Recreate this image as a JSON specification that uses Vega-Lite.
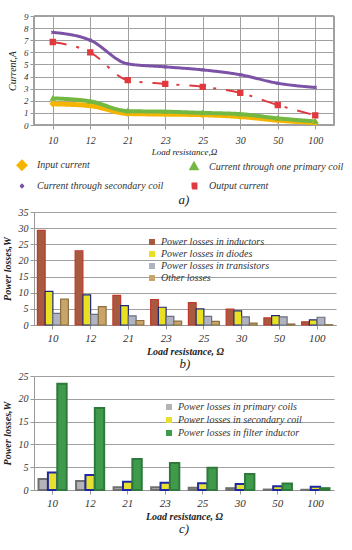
{
  "$schema": "https://vega.github.io/schema/vega-lite/v6.json",
  "padding": {"top": 12, "left": 2, "right": 12, "bottom": 0},
  "spacing": 0,
  "resolve": {
    "scale": {"color": "independent", "stroke": "independent", "shape": "independent", "size": "independent", "strokeWidth": "independent", "strokeDash": "independent", "x": "independent", "y": "independent", "xOffset": "independent"},
    "legend": {"color": "independent", "stroke": "independent", "shape": "independent"}
  },
  "config": {
    "font": "Liberation Serif",
    "view": {"stroke": null},
    "axis": {"labelFont": "Liberation Serif", "labelFontStyle": "italic", "labelFontSize": 10, "labelColor": "#333", "titleFont": "Liberation Serif", "titleFontStyle": "italic", "titleFontSize": 10, "titleColor": "#222", "titleFontWeight": "normal", "gridColor": "#a0a0a0", "domainColor": "#999", "tickColor": "#999", "tickSize": 4},
    "legend": {"labelFont": "Liberation Serif", "labelFontStyle": "italic", "labelFontSize": 10, "labelColor": "#333"},
    "title": {"font": "Liberation Serif", "fontStyle": "italic", "fontWeight": "normal", "fontSize": 13, "color": "#222"}
  },
  "datasets": {
    "currents": [
      {"R": "10", "series": "Input current", "value": 1.75},
      {"R": "12", "series": "Input current", "value": 1.6},
      {"R": "21", "series": "Input current", "value": 0.95},
      {"R": "23", "series": "Input current", "value": 0.9},
      {"R": "25", "series": "Input current", "value": 0.85},
      {"R": "30", "series": "Input current", "value": 0.7},
      {"R": "50", "series": "Input current", "value": 0.4},
      {"R": "100", "series": "Input current", "value": 0.2},
      {"R": "10", "series": "Current through one primary coil", "value": 2.2},
      {"R": "12", "series": "Current through one primary coil", "value": 1.95},
      {"R": "21", "series": "Current through one primary coil", "value": 1.15},
      {"R": "23", "series": "Current through one primary coil", "value": 1.1},
      {"R": "25", "series": "Current through one primary coil", "value": 1.0},
      {"R": "30", "series": "Current through one primary coil", "value": 0.9},
      {"R": "50", "series": "Current through one primary coil", "value": 0.55},
      {"R": "100", "series": "Current through one primary coil", "value": 0.3},
      {"R": "10", "series": "Current through secondary coil", "value": 7.65},
      {"R": "12", "series": "Current through secondary coil", "value": 7.0},
      {"R": "21", "series": "Current through secondary coil", "value": 5.05},
      {"R": "23", "series": "Current through secondary coil", "value": 4.8},
      {"R": "25", "series": "Current through secondary coil", "value": 4.55},
      {"R": "30", "series": "Current through secondary coil", "value": 4.15},
      {"R": "50", "series": "Current through secondary coil", "value": 3.45},
      {"R": "100", "series": "Current through secondary coil", "value": 3.1},
      {"R": "10", "series": "Output current", "value": 6.85},
      {"R": "12", "series": "Output current", "value": 6.0},
      {"R": "21", "series": "Output current", "value": 3.7},
      {"R": "23", "series": "Output current", "value": 3.4},
      {"R": "25", "series": "Output current", "value": 3.15},
      {"R": "30", "series": "Output current", "value": 2.65},
      {"R": "50", "series": "Output current", "value": 1.65},
      {"R": "100", "series": "Output current", "value": 0.8}
    ],
    "lossesB": [
      {"R": "10", "series": "Power losses in inductors", "value": 29.3},
      {"R": "12", "series": "Power losses in inductors", "value": 23.0},
      {"R": "21", "series": "Power losses in inductors", "value": 9.2},
      {"R": "23", "series": "Power losses in inductors", "value": 7.9},
      {"R": "25", "series": "Power losses in inductors", "value": 6.9},
      {"R": "30", "series": "Power losses in inductors", "value": 4.9},
      {"R": "50", "series": "Power losses in inductors", "value": 2.2},
      {"R": "100", "series": "Power losses in inductors", "value": 1.0},
      {"R": "10", "series": "Power losses in  diodes", "value": 10.4},
      {"R": "12", "series": "Power losses in  diodes", "value": 9.3},
      {"R": "21", "series": "Power losses in  diodes", "value": 6.0},
      {"R": "23", "series": "Power losses in  diodes", "value": 5.5},
      {"R": "25", "series": "Power losses in  diodes", "value": 5.0},
      {"R": "30", "series": "Power losses in  diodes", "value": 4.4},
      {"R": "50", "series": "Power losses in  diodes", "value": 2.9},
      {"R": "100", "series": "Power losses in  diodes", "value": 1.6},
      {"R": "10", "series": "Power losses in transistors", "value": 3.6},
      {"R": "12", "series": "Power losses in transistors", "value": 3.3},
      {"R": "21", "series": "Power losses in transistors", "value": 2.8},
      {"R": "23", "series": "Power losses in transistors", "value": 2.7},
      {"R": "25", "series": "Power losses in transistors", "value": 2.7},
      {"R": "30", "series": "Power losses in transistors", "value": 2.5},
      {"R": "50", "series": "Power losses in transistors", "value": 2.5},
      {"R": "100", "series": "Power losses in transistors", "value": 2.4},
      {"R": "10", "series": "Other losses", "value": 8.0},
      {"R": "12", "series": "Other losses", "value": 5.7},
      {"R": "21", "series": "Other losses", "value": 1.4},
      {"R": "23", "series": "Other losses", "value": 1.2},
      {"R": "25", "series": "Other losses", "value": 1.1},
      {"R": "30", "series": "Other losses", "value": 0.6},
      {"R": "50", "series": "Other losses", "value": 0.3},
      {"R": "100", "series": "Other losses", "value": 0.1}
    ],
    "lossesC": [
      {"R": "10", "series": "Power losses in primary coils", "value": 2.4},
      {"R": "12", "series": "Power losses in primary coils", "value": 2.0},
      {"R": "21", "series": "Power losses in primary coils", "value": 0.6},
      {"R": "23", "series": "Power losses in primary coils", "value": 0.6},
      {"R": "25", "series": "Power losses in primary coils", "value": 0.5},
      {"R": "30", "series": "Power losses in primary coils", "value": 0.4},
      {"R": "50", "series": "Power losses in primary coils", "value": 0.1},
      {"R": "100", "series": "Power losses in primary coils", "value": 0.05},
      {"R": "10", "series": "Power losses in secondary coil", "value": 3.85},
      {"R": "12", "series": "Power losses in secondary coil", "value": 3.3},
      {"R": "21", "series": "Power losses in secondary coil", "value": 1.8},
      {"R": "23", "series": "Power losses in secondary coil", "value": 1.6},
      {"R": "25", "series": "Power losses in secondary coil", "value": 1.5},
      {"R": "30", "series": "Power losses in secondary coil", "value": 1.3},
      {"R": "50", "series": "Power losses in secondary coil", "value": 0.8},
      {"R": "100", "series": "Power losses in secondary coil", "value": 0.7},
      {"R": "10", "series": "Power losses in filter  inductor", "value": 23.3},
      {"R": "12", "series": "Power losses in filter  inductor", "value": 18.0},
      {"R": "21", "series": "Power losses in filter  inductor", "value": 6.8},
      {"R": "23", "series": "Power losses in filter  inductor", "value": 5.9},
      {"R": "25", "series": "Power losses in filter  inductor", "value": 4.9},
      {"R": "30", "series": "Power losses in filter  inductor", "value": 3.5},
      {"R": "50", "series": "Power losses in filter  inductor", "value": 1.4},
      {"R": "100", "series": "Power losses in filter  inductor", "value": 0.4}
    ]
  },
  "vconcat": [
    {
      "width": 300,
      "height": 109,
      "data": {"name": "currents"},
      "title": {"text": "a)", "orient": "bottom", "offset": 0},
      "encoding": {
        "x": {"field": "R", "type": "ordinal", "scale": {"domain": ["10", "12", "21", "23", "25", "30", "50", "100"], "paddingInner": 0, "paddingOuter": 0},
          "axis": {"title": "Load resistance,Ω", "titleFontSize": 9, "labelAngle": 0, "bandPosition": 0, "grid": true, "labelPadding": 6, "titlePadding": 2}},
        "y": {"field": "value", "type": "quantitative", "scale": {"domain": [0, 9]},
          "axis": {"title": "Current,A", "values": [0, 1, 2, 3, 4, 5, 6, 7, 8, 9], "labelFontSize": 9, "titlePadding": 6}},
        "color": {"field": "series", "type": "nominal", "title": null,
          "scale": {"domain": ["Input current", "Current through one primary coil", "Current through secondary coil", "Output current"], "range": ["#f5b400", "#72b843", "#7b52a6", "#e0393e"]},
          "legend": {"orient": "none", "direction": "horizontal", "legendX": -17, "legendY": 144, "columns": 2, "columnPadding": 20, "rowPadding": 0, "labelLimit": 200, "symbolStrokeWidth": 1.5, "labelOffset": 10, "symbolSize": 12}}
      },
      "layer": [
        {"mark": {"type": "rect", "fill": null, "stroke": "#a0a0a0", "strokeWidth": 1}, "encoding": {"x": {"value": 0}, "x2": {"value": 300}, "y": {"value": 0}, "y2": {"value": 109}, "color": {"value": null}}},
        {"mark": {"type": "line", "interpolate": "monotone"},
          "encoding": {
            "strokeWidth": {"field": "series", "type": "nominal", "scale": {"domain": ["Input current", "Current through one primary coil", "Current through secondary coil", "Output current"], "range": [5, 2, 2, 4]}, "legend": null},
            "strokeDash": {"field": "series", "type": "nominal", "scale": {"domain": ["Input current", "Current through one primary coil", "Current through secondary coil", "Output current"], "range": [[1, 0], [1, 0], [1, 0], [14, 10, 3, 10]]}, "legend": null}
          }},
        {"mark": {"type": "point", "filled": true, "opacity": 1, "strokeWidth": 1.5, "size": 12},
          "encoding": {
            "shape": {"field": "series", "type": "nominal", "scale": {"domain": ["Input current", "Current through one primary coil", "Current through secondary coil", "Output current"], "range": ["M0,-1.4L1.4,0L0,1.4L-1.4,0Z", "M0,-1.1L1.1,0.9L-1.1,0.9Z", "M-0.8,-0.8L0.8,0.8M0.8,-0.8L-0.8,0.8", "M-1.4,-1.4H1.4V1.4H-1.4Z"]}},
            "stroke": {"field": "series", "type": "nominal", "scale": {"domain": ["Input current", "Current through one primary coil", "Current through secondary coil", "Output current"], "range": ["#f5b400", "#72b843", "#7b52a6", "#e0393e"]}, "legend": null}
          }}
      ]
    },
    {
      "width": 302,
      "height": 113,
      "data": {"name": "lossesB"},
      "title": {"text": "b)", "orient": "bottom", "offset": 2},
      "mark": {"type": "bar", "strokeWidth": 1.2},
      "encoding": {
        "x": {"field": "R", "type": "ordinal", "scale": {"domain": ["10", "12", "21", "23", "25", "30", "50", "100"], "paddingInner": 0.18, "paddingOuter": 0.09},
          "axis": {"title": "Load resistance, Ω", "titleFontWeight": "bold", "labelAngle": 0, "labelPadding": 3, "titlePadding": 3, "labelFontSize": 11}},
        "xOffset": {"field": "series", "type": "nominal", "scale": {"domain": ["Power losses in inductors", "Power losses in  diodes", "Power losses in transistors", "Other losses"], "paddingInner": 0}},
        "y": {"field": "value", "type": "quantitative", "scale": {"domain": [0, 35]},
          "axis": {"title": "Power losses,W", "titleFontWeight": "bold", "values": [0, 5, 10, 15, 20, 25, 30, 35], "titlePadding": 6}},
        "color": {"field": "series", "type": "nominal", "title": null,
          "scale": {"domain": ["Power losses in inductors", "Power losses in  diodes", "Power losses in transistors", "Other losses"], "range": ["#a85a40", "#e8e020", "#b0b4c2", "#c9a56a"]},
          "legend": {"orient": "none", "legendX": 113, "legendY": 25, "rowPadding": 2, "symbolType": "square", "symbolSize": 36, "labelLimit": 250, "symbolStrokeWidth": 0}},
        "stroke": {"field": "series", "type": "nominal", "scale": {"domain": ["Power losses in inductors", "Power losses in  diodes", "Power losses in transistors", "Other losses"], "range": ["#c0392b", "#1f2a78", "#6a6e80", "#8a7040"]}, "legend": null}
      }
    },
    {
      "width": 300,
      "height": 114,
      "data": {"name": "lossesC"},
      "title": {"text": "c)", "orient": "bottom", "offset": 2},
      "mark": {"type": "bar", "strokeWidth": 2},
      "encoding": {
        "x": {"field": "R", "type": "ordinal", "scale": {"domain": ["10", "12", "21", "23", "25", "30", "50", "100"], "paddingInner": 0.25, "paddingOuter": 0.12},
          "axis": {"title": "Load resistance, Ω", "titleFontWeight": "bold", "labelAngle": 0, "labelPadding": 3, "titlePadding": 3, "labelFontSize": 11}},
        "xOffset": {"field": "series", "type": "nominal", "scale": {"domain": ["Power losses in primary coils", "Power losses in secondary coil", "Power losses in filter  inductor"], "paddingInner": 0}},
        "y": {"field": "value", "type": "quantitative", "scale": {"domain": [0, 25]},
          "axis": {"title": "Power losses,W", "titleFontWeight": "bold", "values": [0, 5, 10, 15, 20, 25], "titlePadding": 6}},
        "color": {"field": "series", "type": "nominal", "title": null,
          "scale": {"domain": ["Power losses in primary coils", "Power losses in secondary coil", "Power losses in filter  inductor"], "range": ["#b4b4b8", "#e8e030", "#3f9a4c"]},
          "legend": {"orient": "none", "legendX": 130, "legendY": 26, "rowPadding": 3, "symbolType": "square", "symbolSize": 36, "labelLimit": 250, "symbolStrokeWidth": 0}},
        "stroke": {"field": "series", "type": "nominal", "scale": {"domain": ["Power losses in primary coils", "Power losses in secondary coil", "Power losses in filter  inductor"], "range": ["#707070", "#1e28a0", "#2f7a3a"]}, "legend": null}
      }
    }
  ]
}
